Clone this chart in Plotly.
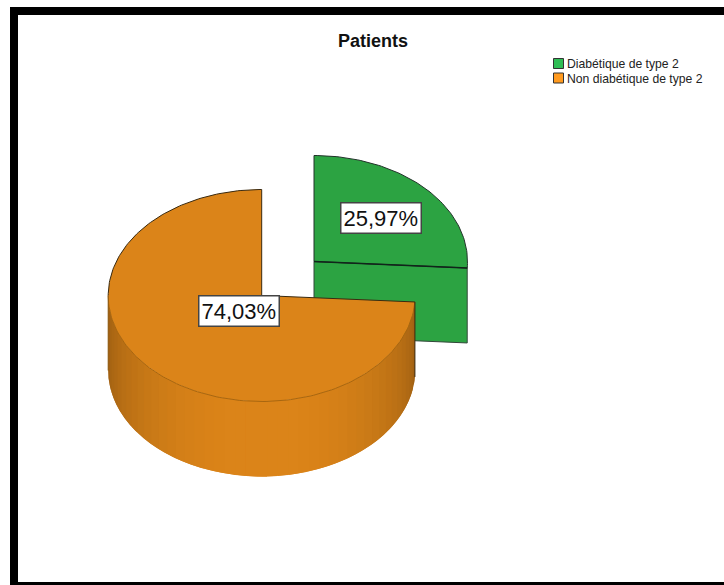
import numpy as np
import plotly.graph_objects as go

# Chart data
title = "Patients"
categories = ["Diabétique de type 2", "Non diabétique de type 2"]
shares = [25.97, 74.03]
top_colors = ["#2ca342", "#db8419"]
legend_colors = ["#2fbd55", "#ff9a1f"]

# Drawing geometry, in pixels of the page
W, H = 724, 585
CX, CY = 261.7, 295.5
RX, RY = 153.5, 106
DEPTH = 75
EXPLODE = (52.3, -34)
LABEL_RADIUS = [0.6, 0.2]
FONT = "Liberation Sans, Arial, sans-serif"


def rim(t, cx=CX, cy=CY):
    """Points on the top ellipse for angles t (degrees, clockwise from east)."""
    t = np.radians(t)
    return cx + RX * np.cos(t), cy + RY * np.sin(t)


def shade(hex_color, k):
    rgb = [int(hex_color[i:i + 2], 16) for i in (1, 3, 5)]
    return "rgb({},{},{})".format(*[int(c * k) for c in rgb])


def poly(fig, x, y, fill, line=None, width=1, close=True):
    x, y = list(x), list(y)
    if close:
        x, y = x + x[:1], y + y[:1]
    fig.add_trace(go.Scatter(
        x=x, y=y, mode="lines",
        fill="toself" if fill else None,
        fillcolor=fill,
        line=dict(color=line or "rgba(0,0,0,0)", width=width if line else 0),
        hoverinfo="skip", showlegend=False,
    ))


fig = go.Figure()

start = -90.0
split = start + 360 * shares[0] / 100
end = 270.0

# Exploded slice: radial wall first, then its top face
gx, gy = CX + EXPLODE[0], CY + EXPLODE[1]
ex, ey = rim(split, gx, gy)
poly(fig, [gx, ex, ex, gx], [gy, ey, ey + DEPTH, gy + DEPTH], top_colors[0], "#33473a", 1)
t = np.linspace(start, split, 80)
ax, ay = rim(t, gx, gy)
poly(fig, [gx, *ax], [gy, *ay], top_colors[0], "#22332a", 1)
poly(fig, [gx, ex], [gy, ey], None, "#10251a", 1.4, close=False)

# Main slice: curved outer wall, painted as shaded vertical bands that overlap
# their neighbour towards the middle so no seams show between them
STEP = 4.0
wall_edges = np.arange(180.0, split - 0.01, -STEP)
wall_edges = np.append(wall_edges, split)
n = len(wall_edges) - 1
order = sorted(range(n), key=lambda i: abs((wall_edges[i] + wall_edges[i + 1]) / 2 - 90), reverse=True)
for i in order:
    a, b = wall_edges[i], wall_edges[i + 1]
    mid = (a + b) / 2
    k = min(1.0, 0.71 + 0.30 * np.sin(np.radians(mid)))
    # extend each band past its inner edge; the next band painted covers the excess
    if mid > 90:
        b = b - STEP
    else:
        a = a + STEP
    tt = np.linspace(a, b, 6)
    wx, wy = rim(tt)
    poly(fig, [*wx, *wx[::-1]], [*wy, *(wy[::-1] + DEPTH)], shade(top_colors[1], k))

# Main slice: top face
t = np.linspace(split, end, 240)
ax, ay = rim(t)
poly(fig, [CX, *ax], [CY, *ay], top_colors[1])

# Outlines of the main slice
front = np.linspace(split, 180, 120)
fx, fy = rim(front)
poly(fig, fx, fy, None, "#a8660f", 1, close=False)
back = np.linspace(180, end, 90)
bx, by = rim(back)
poly(fig, [CX, CX, *bx[::-1]], [CY, by[-1], *by[::-1]], None, "#3a2a10", 1, close=False)
sx, sy = rim(split)
poly(fig, [CX, sx, sx], [CY, sy, sy + DEPTH], None, "#3a2a10", 1, close=False)
lx, ly = rim(180)
poly(fig, [lx, lx], [ly, ly + DEPTH], None, "#8f5a12", 1, close=False)

# Percentage labels
annotations = []
mids = [(start + split) / 2, (split + end) / 2]
centres = [(gx, gy), (CX, CY)]
for share, mid, (cx, cy), r in zip(shares, mids, centres, LABEL_RADIUS):
    lx_, ly_ = cx + r * RX * np.cos(np.radians(mid)), cy + r * RY * np.sin(np.radians(mid))
    annotations.append(dict(
        x=lx_ - 0.5, y=ly_ + 0.5, xref="x", yref="y", showarrow=False,
        text=f"{share:.2f}%".replace(".", ","),
        font=dict(family=FONT, size=22, color="#111111"),
        bgcolor="white", bordercolor="#444444", borderwidth=1.5, borderpad=2,
    ))

# Legend entries
for name, color, y in zip(categories, legend_colors, [63.5, 78]):
    fig.add_trace(go.Scatter(
        x=[558.5], y=[y], mode="markers",
        marker=dict(symbol="square", size=10, color=color, line=dict(color="#333333", width=1)),
        hoverinfo="skip", showlegend=False,
    ))
    annotations.append(dict(
        x=566, y=y + 0.5, xref="x", yref="y", showarrow=False, xanchor="left", xshift=-1,
        text=name, font=dict(family=FONT, size=12.2, color="#222222"),
    ))

# Black frame along the left, top and bottom
frame = [(10, 7, W, 15), (10, 7, 18, H), (10, 582, W, H)]
shapes = [dict(type="rect", xref="x", yref="y", x0=a, y0=b, x1=c, y1=d,
               fillcolor="black", line=dict(width=0), layer="below") for a, b, c, d in frame]

fig.update_layout(
    width=W, height=H, margin=dict(l=0, r=0, t=0, b=0),
    autosize=False,
    paper_bgcolor="white", plot_bgcolor="white",
    title=dict(text=f"<b>{title}</b>", x=373 / W, y=1 - 40.5 / H, xanchor="center", yanchor="middle",
               font=dict(family=FONT, size=18, color="#111111")),
    xaxis=dict(range=[0, W], visible=False, fixedrange=True),
    yaxis=dict(range=[H, 0], visible=False, fixedrange=True),
    shapes=shapes, annotations=annotations,
    showlegend=False,
)

fig.write_html("out.html", config=dict(displayModeBar=False))
